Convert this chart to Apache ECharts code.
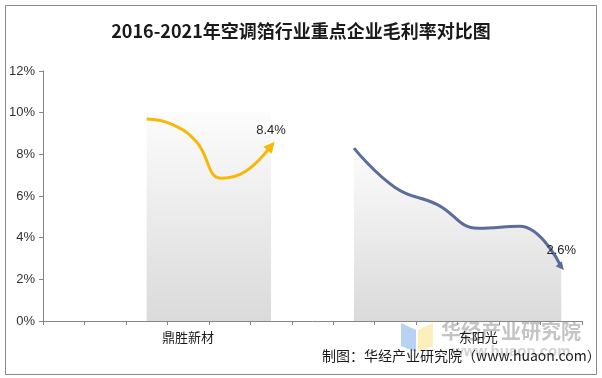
<!DOCTYPE html>
<html>
<head>
<meta charset="utf-8">
<script src="https://cdn.jsdelivr.net/npm/echarts@6/dist/echarts.min.js"></script>
<style>
html,body{margin:0;padding:0;background:#fff;}
#c{width:602px;height:378px;}
</style>
</head>
<body>
<div id="c"></div>
<script>
// ---- data ----
var title = '2016-2021年空调箔行业重点企业毛利率对比图';
var source = '制图：华经产业研究院（www.huaon.com）';
var slots = ['', '', '', '鼎胜新材', '', '', '', '', '', '', '东阳光', '', ''];
var companies = ['鼎胜新材', '东阳光'];
var years = ['2016', '2017', '2018', '2019', '2020', '2021'];
var dingshengX = [2.5, 3.1, 3.7, 4.3, 4.9, 5.5];
var dingsheng = [9.7, 9.45, 8.6, 6.85, 7.2, 8.4];
var dongyangX = [7.5, 8.5, 9.5, 10.5, 11.5, 12.5];
var dongyang = [8.3, 6.4, 5.6, 4.45, 4.55, 2.6];
var yTicks = [0, 2, 4, 6, 8, 10, 12];
var bandTop = 10;

function grad() {
  return new echarts.graphic.LinearGradient(0, 0, 0, 1, [
    {offset: 0, color: '#fcfcfc'},
    {offset: 1, color: '#dadada'}
  ]);
}

function buildData(xs, vs, rot, size, dist) {
  return vs.map(function (v, i) {
    var item = {value: [xs[i], v], symbol: 'none'};
    if (i === vs.length - 1) {
      item.symbol = 'triangle';
      item.symbolSize = size;
      item.symbolRotate = rot;
      item.label = {
        show: true, position: 'top', distance: dist,
        formatter: function (p) { return p.value[1].toFixed(1) + '%'; },
        color: '#262626', fontSize: 13, fontFamily: 'Liberation Sans'
      };
    }
    return item;
  });
}

var chart = echarts.init(document.getElementById('c'), null, {renderer: 'canvas'});
chart.setOption({
  animation: false,
  backgroundColor: '#ffffff',
  title: {
    text: title, left: 'center', top: 17,
    textStyle: {fontSize: 18, fontWeight: 'bold', color: '#1a1a1a', fontFamily: 'Noto Sans CJK SC'}
  },
  grid: {left: 43, right: 20, top: 71, bottom: 57},
  xAxis: [{
    type: 'category', data: slots, boundaryGap: true,
    axisLine: {lineStyle: {color: '#868686', width: 1}},
    axisTick: {show: true, interval: 0, length: 4, lineStyle: {color: '#868686'}},
    axisLabel: {interval: 0, margin: 10, color: '#1a1a1a', fontSize: 13, fontFamily: 'Noto Sans CJK SC'},
    splitLine: {show: false}
  }, {
    type: 'value', min: 0, max: slots.length, show: false
  }],
  yAxis: {
    type: 'value', min: yTicks[0], max: yTicks[yTicks.length - 1], interval: 2,
    axisLine: {show: true, lineStyle: {color: '#868686'}},
    axisTick: {show: true, length: 4, lineStyle: {color: '#868686'}},
    axisLabel: {formatter: '{value}%', color: '#333333', fontSize: 13, fontFamily: 'Liberation Sans', margin: 8},
    splitLine: {show: false}
  },
  series: [{
    name: companies[0] + '底', type: 'line', xAxisIndex: 1, data: [], z: 1,
    markArea: {
      silent: true,
      itemStyle: {color: grad()},
      data: [[{coord: [dingshengX[0], 0]}, {coord: [dingshengX[dingshengX.length - 1], bandTop]}]]
    }
  }, {
    name: companies[0], type: 'line', xAxisIndex: 1, smooth: 0.45, z: 3,
    showSymbol: true,
    lineStyle: {color: '#F6B909', width: 3},
    itemStyle: {color: '#F6B909'},
    data: buildData(dingshengX, dingsheng, -40, 11, 1)
  }, {
    name: companies[1], type: 'line', xAxisIndex: 1, smooth: 0.45, z: 3,
    showSymbol: true,
    lineStyle: {color: '#5A6E97', width: 3},
    itemStyle: {color: '#5A6E97'},
    areaStyle: {color: grad(), opacity: 1},
    data: buildData(dongyangX, dongyang, -140, 8, 4)
  }],
  graphic: [
    {type: 'rect', shape: {x: 5.5, y: 5.5, width: 591, height: 369}, style: {fill: null, stroke: '#8a8a8a', lineWidth: 1}, z: 0, silent: true},
    {type: 'polygon', shape: {points: [[401, 323], [416, 330], [416, 352], [401, 346]]}, style: {fill: '#b7d2f3'}, z: 0, silent: true},
    {type: 'polygon', shape: {points: [[418, 330], [433, 323], [433, 346], [418, 352]]}, style: {fill: '#fcefbb'}, z: 0, silent: true},
    {type: 'text', left: 441, top: 321, z: 0, silent: true,
      style: {text: '华经产业研究院', fill: '#c4c4c4', font: 'bold 20px "Noto Sans CJK SC"'}},
    {type: 'text', left: 452, top: 344, z: 0, silent: true,
      style: {text: 'www.huaon.com', fill: '#d2d2d2', font: 'bold 15px "Liberation Sans"'}},
    {type: 'text', left: 322, top: 349, z: 100, silent: true,
      style: {text: source, fill: '#1a1a1a', font: '14px "Noto Sans CJK SC"'}}
  ]
});
</script>
</body>
</html>
